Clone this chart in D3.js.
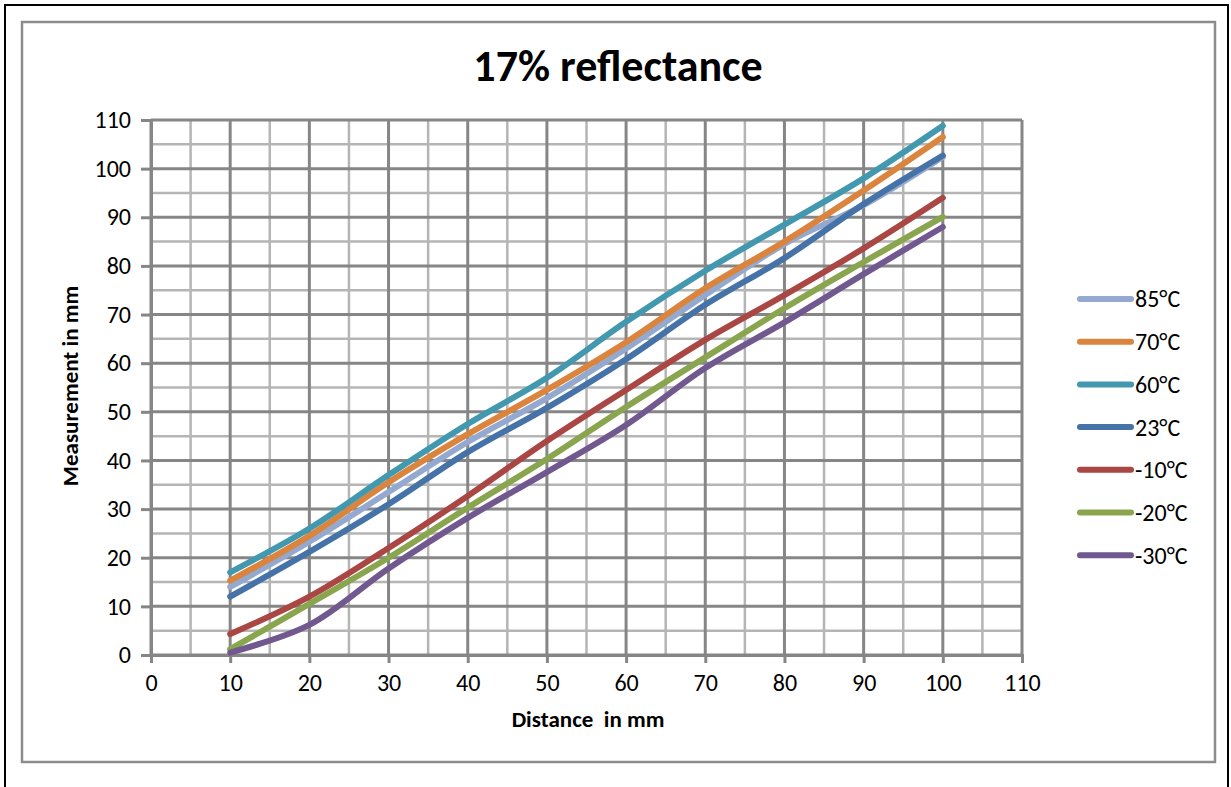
<!DOCTYPE html>
<html>
<head>
<meta charset="utf-8">
<script src="https://cdn.jsdelivr.net/npm/d3@7"></script>
<style>
  html, body { margin: 0; padding: 0; background: #fff; }
  svg { display: block; }
  text { font-family: Carlito, Calibri, Lato, "Open Sans", sans-serif; fill: #000; }
</style>
</head>
<body>
<svg id="chart" width="1231" height="787"></svg>
<script>
// Distances measured (mm)
const distances = [10, 20, 30, 40, 50, 60, 70, 80, 90, 100];

// Measurements per temperature (mm)
const series85 = [14, 23.3, 33.5, 43.8, 52.8, 63, 74, 84.5, 92.5, 102.4];
const series70 = [15.3, 24.5, 35.5, 45.4, 54.5, 64.3, 75.4, 85, 95.5, 106.5];
const series60 = [17, 26, 37, 47.5, 57, 68.5, 79, 88.5, 98, 108.8];
const series23 = [12, 21.2, 31, 41.7, 50.8, 60.8, 72, 81.6, 92.7, 102.7];
const seriesM10 = [4.3, 12, 22, 32.7, 44, 54.5, 64.8, 74, 83.6, 94];
const seriesM20 = [1.2, 10.5, 20, 30.3, 40.3, 51, 61.2, 71.3, 80.8, 90.1];
const seriesM30 = [0.5, 6.2, 17.8, 28.2, 37.6, 47.3, 59, 68.4, 78.3, 88];

const seriesNames = ["85°C", "70°C", "60°C", "23°C", "-10°C", "-20°C", "-30°C"];
const seriesColors = ["#93A9CF", "#DB843D", "#4198AF", "#4572A7", "#AA4643", "#89A54E", "#71588F"];
const seriesValues = [series85, series70, series60, series23, seriesM10, seriesM20, seriesM30];

const xTicks = [0, 10, 20, 30, 40, 50, 60, 70, 80, 90, 100, 110];
const yTicks = [0, 10, 20, 30, 40, 50, 60, 70, 80, 90, 100, 110];
const minorSteps = d3.range(5, 110, 10);

const svg = d3.select("#chart");

// outer frame and chart area frame
svg.append("rect").attr("x", 5).attr("y", 5).attr("width", 1223).attr("height", 790)
  .attr("fill", "none").attr("stroke", "#000").attr("stroke-width", 2);
svg.append("rect").attr("x", 22).attr("y", 22).attr("width", 1193).attr("height", 740)
  .attr("fill", "none").attr("stroke", "#8c8c8c").attr("stroke-width", 2.5);

const plot = { left: 151, right: 1022, top: 120, bottom: 655 };
const x = d3.scaleLinear().domain([0, 110]).range([plot.left, plot.right]);
const y = d3.scaleLinear().domain([0, 110]).range([plot.bottom, plot.top]);

const grid = svg.append("g");
// minor gridlines
grid.selectAll("line.vminor").data(minorSteps).join("line")
  .attr("x1", d => x(d)).attr("x2", d => x(d)).attr("y1", plot.top).attr("y2", plot.bottom)
  .attr("stroke", "#b5b5b5").attr("stroke-width", 2.5);
grid.selectAll("line.hminor").data(minorSteps).join("line")
  .attr("y1", d => y(d)).attr("y2", d => y(d)).attr("x1", plot.left).attr("x2", plot.right)
  .attr("stroke", "#b5b5b5").attr("stroke-width", 2.5);
// major gridlines
grid.selectAll("line.vmajor").data(xTicks).join("line")
  .attr("x1", d => x(d)).attr("x2", d => x(d)).attr("y1", plot.top).attr("y2", plot.bottom)
  .attr("stroke", "#868686").attr("stroke-width", 3);
grid.selectAll("line.hmajor").data(yTicks).join("line")
  .attr("y1", d => y(d)).attr("y2", d => y(d)).attr("x1", plot.left).attr("x2", plot.right)
  .attr("stroke", "#868686").attr("stroke-width", 3);

// axes
const xAxis = d3.axisBottom(x).tickValues(xTicks).tickSize(8).tickPadding(11);
const yAxis = d3.axisLeft(y).tickValues(yTicks).tickSize(10).tickPadding(10);
const gx = svg.append("g").attr("transform", `translate(0,${plot.bottom})`).call(xAxis);
const gy = svg.append("g").attr("transform", `translate(${plot.left},0)`).call(yAxis);
[gx, gy].forEach(g => {
  g.select(".domain").attr("stroke", "#868686").attr("stroke-width", 3);
  g.selectAll(".tick line").attr("stroke", "#868686").attr("stroke-width", 3);
  g.selectAll(".tick text").attr("font-size", 24).attr("font-family", "Carlito, Calibri, Lato, sans-serif").attr("fill", "#000");
});

// lines
const line = d3.line()
  .x((d, i) => x(distances[i]))
  .y(d => y(d))
  .curve(d3.curveCatmullRom.alpha(0.5));

svg.append("g").selectAll("path").data(seriesValues).join("path")
  .attr("d", d => line(d))
  .attr("fill", "none")
  .attr("stroke", (d, i) => seriesColors[i])
  .attr("stroke-width", 6)
  .attr("stroke-linecap", "round")
  .attr("stroke-linejoin", "round");

// title
svg.append("text").attr("x", 618).attr("y", 81).attr("text-anchor", "middle")
  .attr("font-size", 44).attr("font-weight", "bold").text("17% reflectance");

// axis titles
svg.append("text").attr("x", 588).attr("y", 727).attr("text-anchor", "middle")
  .attr("font-size", 23).attr("font-weight", "bold").attr("xml:space", "preserve")
  .text("Distance  in mm");
svg.append("text").attr("transform", "translate(78,386) rotate(-90)").attr("text-anchor", "middle")
  .attr("font-size", 23).attr("font-weight", "bold").text("Measurement in mm");

// legend
const legend = svg.append("g");
const legendY = d => 299 + d * 42.7;
seriesNames.forEach((name, i) => {
  legend.append("line")
    .attr("x1", 1080).attr("x2", 1131).attr("y1", legendY(i)).attr("y2", legendY(i))
    .attr("stroke", seriesColors[i]).attr("stroke-width", 6).attr("stroke-linecap", "round");
  legend.append("text").attr("x", 1135).attr("y", legendY(i)).attr("dy", "0.35em")
    .attr("font-size", 24).text(name);
});
</script>
</body>
</html>
